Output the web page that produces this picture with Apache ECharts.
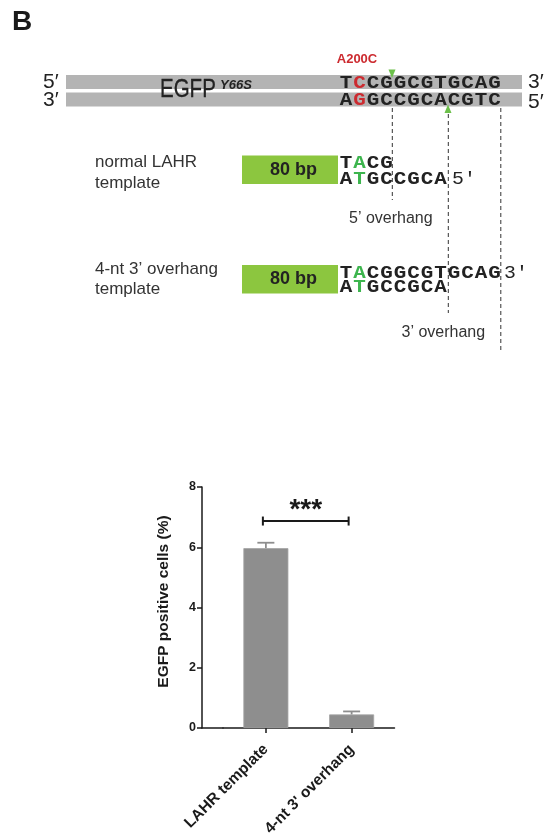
<!DOCTYPE html>
<html>
<head>
<meta charset="utf-8">
<script src="https://cdn.jsdelivr.net/npm/echarts@6/dist/echarts.min.js"></script>
<style>
html,body{margin:0;padding:0;background:#fff;}
#main{width:547px;height:834px;}
</style>
</head>
<body>
<div id="main"></div>
<script>
// ---------- data ----------
const categories = ['LAHR template', "4-nt 3' overhang"];
const meanValues = [5.97, 0.45];
const errValues = [0.18, 0.10];
const yMin = 0, yMax = 8, yInterval = 2;
const sigPair = [0, 1];
const sigLevel = [6.87];
const sigLabel = '***';

// sequence text of the schematic
const dnaTop = 'TCCGGCGTGCAG';
const dnaBottom = 'AGGCCGCACGTC';
const t1Top = 'TACG';
const t1Bottom = 'ATGCCGCA';
const t2Top = 'TACGGCGTGCAG';
const t2Bottom = 'ATGCCGCA';
const mutIndex = [1];

// ---------- schematic (graphic) ----------
const PITCH = 13.5, X0 = 339.3;
const DARK = '#222222', RED = '#cc2a2f', GREEN = '#3db54e';
const SEQFONT = 'bold 18px "Liberation Mono", "DejaVu Sans Mono", monospace';
const SANS = '"Liberation Sans", Arial, sans-serif';

function seqRow(str, y, hiColor, hiIdx) {
  const els = [];
  for (let i = 0; i < str.length; i++) {
    els.push({
      type: 'text', x: X0 + PITCH * i + PITCH / 2, y: y + 1, scaleX: 1.16,
      style: { text: str[i], font: SEQFONT, fill: hiIdx.indexOf(i) >= 0 ? hiColor : DARK,
               textAlign: 'center', textVerticalAlign: 'middle' }, silent: true
    });
  }
  return els;
}
function txt(text, x, y, font, fill, align, valign, extra) {
  return Object.assign({ type: 'text', x: x, y: y, silent: true,
    style: { text: text, font: font, fill: fill || DARK, textAlign: align || 'left', textVerticalAlign: valign || 'middle' } }, extra || {});
}
function dash(x, y1, y2) {
  return { type: 'line', silent: true, shape: { x1: x, y1: y1, x2: x, y2: y2 },
           style: { stroke: '#333', lineWidth: 1, lineDash: [4, 3] } };
}

const g = [];
g.push(txt('B', 12, 22, 'bold 28px ' + SANS, '#1a1a1a'));
// DNA bars
g.push({ type: 'rect', silent: true, shape: { x: 66, y: 75, width: 456, height: 14 }, style: { fill: '#b4b4b4' } });
g.push({ type: 'rect', silent: true, shape: { x: 66, y: 92.5, width: 456, height: 14 }, style: { fill: '#b4b4b4' } });
g.push(txt('5\u2032', 43, 82, '21px ' + SANS));
g.push(txt('3\u2032', 43, 100, '21px ' + SANS));
g.push(txt('3\u2032', 528, 82, '21px ' + SANS));
g.push(txt('5\u2032', 528, 102, '21px ' + SANS));
g.push(txt('EGFP', 160, 90, '25px ' + SANS, DARK, 'left', 'middle', { scaleX: 0.82, style: { text: 'EGFP', font: '25px ' + SANS, fill: DARK, stroke: DARK, lineWidth: 0.3, textAlign: 'left', textVerticalAlign: 'middle' } }));
g.push(txt('Y66S', 220, 85.5, 'italic bold 13px ' + SANS, DARK, 'left', 'middle'));
g.push(txt('A200C', 357, 59, 'bold 13px ' + SANS, RED, 'center', 'middle'));
Array.prototype.push.apply(g, seqRow(dnaTop, 82.5, RED, mutIndex));
Array.prototype.push.apply(g, seqRow(dnaBottom, 99, RED, mutIndex));
// cut-site triangles
g.push({ type: 'polygon', silent: true, shape: { points: [[388.5, 69.5], [395.5, 69.5], [392, 78]] }, style: { fill: '#6cc04a' } });
g.push({ type: 'polygon', silent: true, shape: { points: [[444.5, 113], [451.5, 113], [448, 104.5]] }, style: { fill: '#6cc04a' } });
// dashed guides
g.push(dash(392.3, 108, 200));
g.push(dash(448.3, 114, 313));
g.push(dash(500.8, 108, 351));

// template 1
g.push(txt('normal LAHR', 95, 162, '17px ' + SANS, '#333'));
g.push(txt('template', 95, 183, '17px ' + SANS, '#333'));
g.push({ type: 'rect', silent: true, shape: { x: 242, y: 155.5, width: 96, height: 28.5 }, style: { fill: '#8cc63f' } });
g.push(txt('80 bp', 293.5, 170, 'bold 18px ' + SANS, DARK, 'center'));
Array.prototype.push.apply(g, seqRow(t1Top, 162.3, GREEN, mutIndex));
Array.prototype.push.apply(g, seqRow(t1Bottom, 178.3, GREEN, mutIndex));
g.push(txt('5\u2032', 452, 179.3, '18px "Liberation Mono", monospace', DARK, 'left', 'middle', { scaleX: 1.1 }));
g.push(txt('5\u2019 overhang', 349, 218.5, '16px ' + SANS, '#333'));

// template 2
g.push(txt("4-nt 3\u2019 overhang", 95, 269, '17px ' + SANS, '#333'));
g.push(txt('template', 95, 289, '17px ' + SANS, '#333'));
g.push({ type: 'rect', silent: true, shape: { x: 242, y: 265, width: 96, height: 28.5 }, style: { fill: '#8cc63f' } });
g.push(txt('80 bp', 293.5, 279.5, 'bold 18px ' + SANS, DARK, 'center'));
Array.prototype.push.apply(g, seqRow(t2Top, 272.3, GREEN, mutIndex));
Array.prototype.push.apply(g, seqRow(t2Bottom, 286.7, GREEN, mutIndex));
g.push(txt('3\u2032', 504, 273.3, '18px "Liberation Mono", monospace', DARK, 'left', 'middle', { scaleX: 1.1 }));
g.push(txt('3\u2019 overhang', 401.5, 332.5, '16px ' + SANS, '#333'));

// ---------- chart ----------
const AX = '#1a1a1a';
const chart = echarts.init(document.getElementById('main'), null, { renderer: 'canvas' });
chart.setOption({
  backgroundColor: '#fff',
  animation: false,
  graphic: { elements: g },
  grid: [
    { left: 223, right: 152.5, top: 487, bottom: 106, containLabel: false, outerBoundsMode: 'none' },
    { left: 202, width: 21, top: 487, bottom: 106, containLabel: false, outerBoundsMode: 'none' }
  ],
  xAxis: [
    {
      type: 'category', gridIndex: 0, data: categories,
      axisLine: { show: true, lineStyle: { color: AX, width: 1.5 } },
      axisTick: { show: true, alignWithLabel: true, length: 5, lineStyle: { color: AX, width: 1.5 } },
      axisLabel: { interval: 0, rotate: 45, margin: 19, color: AX, fontWeight: 'bold', fontSize: 15.5, fontFamily: SANS },
      splitLine: { show: false }
    },
    {
      type: 'value', gridIndex: 1, min: 0, max: 1,
      axisLine: { show: true, onZero: false, lineStyle: { color: AX, width: 1.5 } },
      axisTick: { show: false }, axisLabel: { show: false }, splitLine: { show: false }
    }
  ],
  yAxis: [
    {
      type: 'value', gridIndex: 0, min: yMin, max: yMax, interval: yInterval, offset: 21,
      name: 'EGFP positive cells (%)', nameLocation: 'middle', nameGap: 30,
      nameTextStyle: { color: AX, fontWeight: 'bold', fontSize: 15.5, fontFamily: SANS, padding: [0, 0, 0, 12] },
      axisLine: { show: true, lineStyle: { color: AX, width: 1.5 } },
      axisTick: { show: true, length: 5, lineStyle: { color: AX, width: 1.5 } },
      axisLabel: { margin: 6, color: AX, fontWeight: 'bold', fontSize: 12.5, fontFamily: SANS },
      splitLine: { show: false }
    },
    { type: 'value', gridIndex: 1, min: yMin, max: yMax, show: false }
  ],
  series: [
    {
      type: 'bar', xAxisIndex: 0, yAxisIndex: 0, data: meanValues, barWidth: 45,
      itemStyle: { color: '#8e8e8e', borderColor: '#a4a4a4', borderWidth: 0.8 }, z: 2
    },
    {
      type: 'custom', xAxisIndex: 0, yAxisIndex: 0, z: 3,
      data: meanValues.map((v, i) => [i, v, v + errValues[i]]),
      renderItem: function (params, api) {
        const i = api.value(0);
        const p0 = api.coord([i, api.value(1)]);
        const p1 = api.coord([i, api.value(2)]);
        const hw = 8.5;
        const st = { stroke: '#8e8e8e', lineWidth: 1.8 };
        return { type: 'group', children: [
          { type: 'line', shape: { x1: p0[0], y1: p0[1], x2: p1[0], y2: p1[1] }, style: st },
          { type: 'line', shape: { x1: p1[0] - hw, y1: p1[1], x2: p1[0] + hw, y2: p1[1] }, style: st }
        ]};
      }
    },
    {
      type: 'custom', xAxisIndex: 0, yAxisIndex: 0, z: 4,
      data: [[sigPair[0], sigPair[1], sigLevel[0]]],
      renderItem: function (params, api) {
        const a = api.coord([api.value(0), api.value(2)]);
        const b = api.coord([api.value(1), api.value(2)]);
        const x1 = a[0] - 3, x2 = b[0] - 3, y = a[1];
        const st = { stroke: AX, lineWidth: 2 };
        return { type: 'group', children: [
          { type: 'line', shape: { x1: x1, y1: y, x2: x2, y2: y }, style: st },
          { type: 'line', shape: { x1: x1, y1: y - 4.5, x2: x1, y2: y + 4.5 }, style: st },
          { type: 'line', shape: { x1: x2, y1: y - 4.5, x2: x2, y2: y + 4.5 }, style: st },
          { type: 'text', x: (x1 + x2) / 2, y: y - 11, style: { text: sigLabel, font: 'bold 28px ' + SANS, fill: AX, textAlign: 'center', textVerticalAlign: 'middle' } }
        ]};
      }
    }
  ]
});
</script>
</body>
</html>
